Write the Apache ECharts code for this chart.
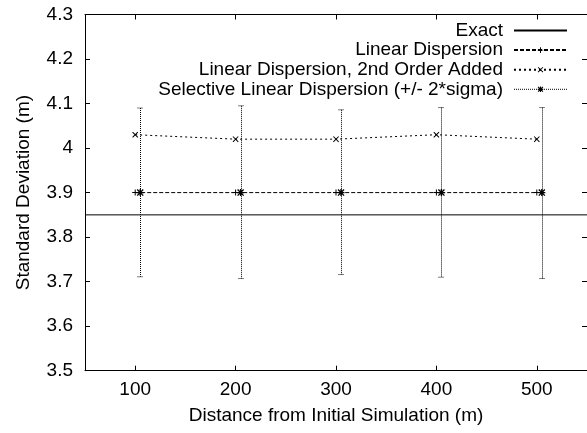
<!DOCTYPE html>
<html>
<head>
<meta charset="utf-8">
<script src="https://cdn.jsdelivr.net/npm/echarts@6/dist/echarts.min.js"></script>
<style>
html,body{margin:0;padding:0;background:#fff;}
#chart{width:587px;height:433px;}
</style>
</head>
<body>
<div id="chart"></div>
<script>
// ---- data ----
var xTicks = [100, 200, 300, 400, 500];
var exactX = [50, 550];
var exactValue = 3.85;
var linearX = [100, 200, 300, 400, 500];
var linearValues = [3.9, 3.9, 3.9, 3.9, 3.9];
var secondOrderX = [100, 200, 300, 400, 500];
var secondOrderValues = [4.03, 4.02, 4.02, 4.03, 4.02];
var selectiveX = [105, 205, 305, 405, 505];
var selectiveValues = [3.9, 3.9, 3.9, 3.9, 3.9];
var selectiveLow = [3.711, 3.707, 3.716, 3.71, 3.707];
var selectiveHigh = [4.09, 4.095, 4.086, 4.091, 4.091];

function zip(xs, ys) { return xs.map(function (x, i) { return [x, ys[i]]; }); }

var FONT = 'Liberation Sans, Arial, sans-serif';
var FS = 19;
var plusPath = 'path://M0,2.5H6V3.5H0Z M2.5,0H3.5V6H2.5Z';
var crossPath = 'path://M0,0.7L0.7,0L6,5.3L5.3,6Z M5.3,0L6,0.7L0.7,6L0,5.3Z';
var starPath = 'path://M0,2.4H6V3.6H0Z M2.4,0H3.6V6H2.4Z M0,0.8L0.8,0L6,5.2L5.2,6Z M5.2,0L6,0.8L0.8,6L0,5.2Z';

var chart = echarts.init(document.getElementById('chart'), null, {renderer: 'canvas'});

var axisCommon = {
  axisLine: {show: true, lineStyle: {color: '#000', width: 1}},
  axisTick: {show: true, inside: true, length: 5, lineStyle: {color: '#000', width: 1}},
  splitLine: {show: false}
};

var option = {
  animation: false,
  backgroundColor: '#fff',
  grid: {left: 85, top: 14.5, right: -3, bottom: 62.3, containLabel: false},
  legend: {
    orient: 'vertical',
    right: 19,
    top: 21,
    padding: 0,
    align: 'right',
    itemWidth: 53,
    itemHeight: 7,
    itemGap: 0.6,
    selectedMode: false,
    textStyle: {fontSize: FS, fontFamily: FONT, color: '#000', lineHeight: 18, padding: [0, 6, 0, 0]},
    data: [
      {name: 'Exact', itemStyle: {opacity: 0}},
      {name: 'Linear Dispersion'},
      {name: 'Linear Dispersion, 2nd Order Added'},
      {name: 'Selective Linear Dispersion (+/- 2*sigma)', lineStyle: {opacity: 1, width: 1, type: [1, 1], color: '#000'}}
    ]
  },
  xAxis: [
    Object.assign({}, axisCommon, {
      type: 'value', min: 50, max: 550, position: 'bottom',
      name: 'Distance from Initial Simulation (m)', nameLocation: 'middle', nameGap: 36,
      nameTextStyle: {fontSize: FS, fontFamily: FONT, color: '#000'},
      axisTick: Object.assign({}, axisCommon.axisTick, {customValues: xTicks}),
      axisLabel: {customValues: xTicks, fontSize: FS, fontFamily: FONT, color: '#000', margin: 10}
    }),
    Object.assign({}, axisCommon, {
      type: 'value', min: 50, max: 550, position: 'top',
      axisTick: Object.assign({}, axisCommon.axisTick, {customValues: xTicks}),
      axisLabel: {show: false}
    })
  ],
  yAxis: [
    Object.assign({}, axisCommon, {
      type: 'value', min: 3.5, max: 4.3, interval: 0.1, position: 'left',
      name: 'Standard Deviation (m)', nameLocation: 'middle', nameGap: 52,
      nameTextStyle: {fontSize: FS, fontFamily: FONT, color: '#000'},
      axisLabel: {fontSize: FS, fontFamily: FONT, color: '#000', margin: 12}
    }),
    Object.assign({}, axisCommon, {
      type: 'value', min: 3.5, max: 4.3, interval: 0.1, position: 'right',
      axisLabel: {show: false}
    })
  ],
  series: [
    {
      name: 'Exact', type: 'line',
      data: exactX.map(function (x) { return [x, exactValue]; }),
      symbol: 'none', lineStyle: {color: '#000', width: 1}, itemStyle: {color: '#000'}
    },
    {
      name: 'Linear Dispersion', type: 'line', data: zip(linearX, linearValues),
      symbol: plusPath, symbolSize: 6,
      lineStyle: {color: '#000', width: 1, type: [4, 2]}, itemStyle: {color: '#000', borderWidth: 0}
    },
    {
      name: 'Linear Dispersion, 2nd Order Added', type: 'line', data: zip(secondOrderX, secondOrderValues),
      symbol: crossPath, symbolSize: 6,
      lineStyle: {color: '#000', width: 1, type: [2, 3]}, itemStyle: {color: '#000', borderWidth: 0}
    },
    {
      name: 'Selective Linear Dispersion (+/- 2*sigma)', type: 'line', data: zip(selectiveX, selectiveValues),
      symbol: starPath, symbolSize: 7, z: 4,
      lineStyle: {color: '#000', width: 1, opacity: 0}, itemStyle: {color: '#000', borderWidth: 0}
    },
    {
      name: 'errorbars', type: 'custom',
      data: selectiveX.map(function (x, i) { return [x, selectiveLow[i], selectiveHigh[i]]; }),
      encode: {x: 0, y: [1, 2]},
      renderItem: function (params, api) {
        var x = api.value(0);
        var lo = api.coord([x, api.value(1)]);
        var hi = api.coord([x, api.value(2)]);
        var st = {stroke: '#000', lineWidth: 1, lineDash: [1, 1]};
        var cx = Math.round(hi[0]) + 0.5;
        return {
          type: 'group',
          children: [
            {type: 'line', shape: {x1: cx, y1: hi[1], x2: cx, y2: lo[1]}, style: st},
            {type: 'line', shape: {x1: cx - 3, y1: hi[1], x2: cx + 3, y2: hi[1]}, style: st},
            {type: 'line', shape: {x1: cx - 3, y1: lo[1], x2: cx + 3, y2: lo[1]}, style: st}
          ]
        };
      }
    }
  ]
};
chart.setOption(option);
</script>
</body>
</html>
